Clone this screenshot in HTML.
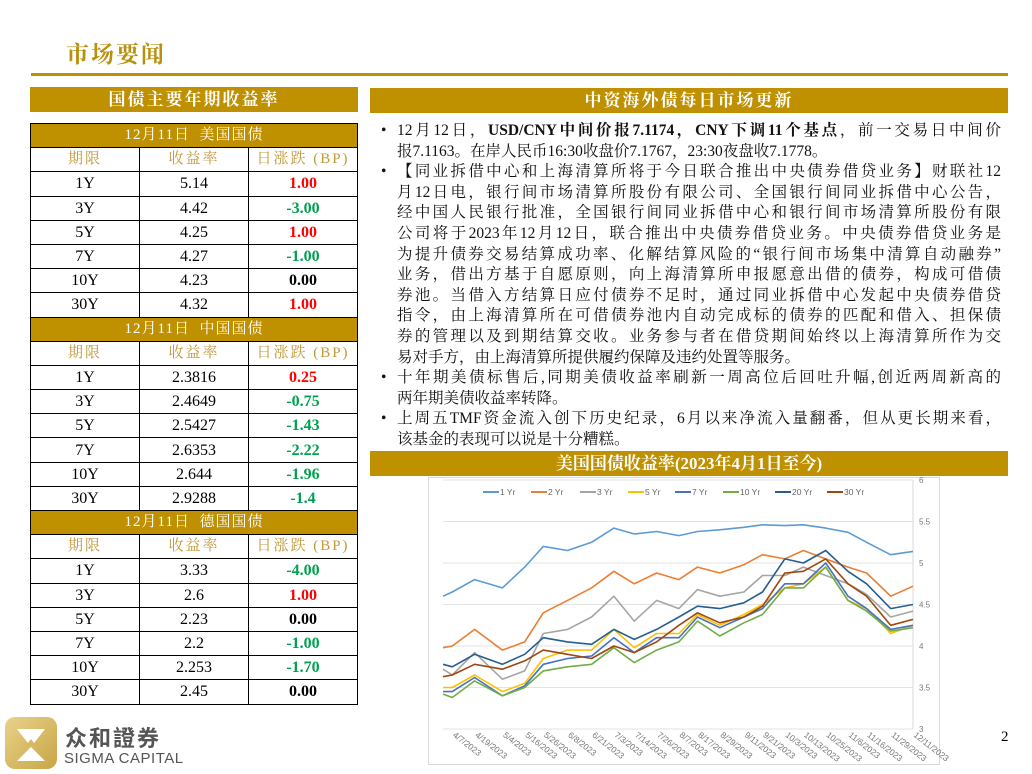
<!DOCTYPE html>
<html><head><meta charset="utf-8">
<style>
*{margin:0;padding:0;box-sizing:border-box}
body{width:1032px;height:769px;background:#fff;position:relative;overflow:hidden;font-family:"Liberation Serif","Noto Serif CJK SC",serif}
.abs{position:absolute}
.gold{background:#bf9000}
.bar{color:#fff;font-weight:bold;font-size:17px;text-align:center;line-height:25px;letter-spacing:2px}
table{border-collapse:collapse;position:absolute;left:30px;top:123px;width:328px}
td{border:1.5px solid #000;height:24.2px;text-align:center;font-size:16px;padding:0;line-height:21px;width:33.3%}
tr.sec td{background:#bf9000;color:#fff;font-size:15px;letter-spacing:1px}
tr.hd td{color:#c09a3a;font-size:15px;letter-spacing:2px}
.r{color:#ff0000;font-weight:bold}.g{color:#00a050;font-weight:bold}.k{font-weight:bold}
.txt{left:381px;top:121px;width:620px;font-size:15.5px;color:#111}
.txt .p{position:relative;padding-left:16px}
.txt .p:before{content:"•";position:absolute;left:0;top:0;line-height:20.6px}
.txt span{display:block;height:20.6px;line-height:20.6px;text-align:justify;text-align-last:justify;white-space:nowrap}
.txt span.e{text-align-last:left}
</style></head><body>
<div class="abs" style="left:66px;top:36px;font-size:23px;font-weight:bold;color:#b8900a;letter-spacing:2px">市场要闻</div>
<div class="abs gold" style="left:31px;top:73px;width:977px;height:3px"></div>

<div class="abs gold bar" style="left:30px;top:87px;width:328px;height:25px">国债主要年期收益率</div>
<table>
<tr class="sec"><td colspan="3">12月11日&nbsp; 美国国债</td></tr>
<tr class="hd"><td>期限</td><td>收益率</td><td>日涨跌 (BP)</td></tr>
<tr><td>1Y</td><td>5.14</td><td class="r">1.00</td></tr>
<tr><td>3Y</td><td>4.42</td><td class="g">-3.00</td></tr>
<tr><td>5Y</td><td>4.25</td><td class="r">1.00</td></tr>
<tr><td>7Y</td><td>4.27</td><td class="g">-1.00</td></tr>
<tr><td>10Y</td><td>4.23</td><td class="k">0.00</td></tr>
<tr><td>30Y</td><td>4.32</td><td class="r">1.00</td></tr>
<tr class="sec"><td colspan="3">12月11日&nbsp; 中国国债</td></tr>
<tr class="hd"><td>期限</td><td>收益率</td><td>日涨跌 (BP)</td></tr>
<tr><td>1Y</td><td>2.3816</td><td class="r">0.25</td></tr>
<tr><td>3Y</td><td>2.4649</td><td class="g">-0.75</td></tr>
<tr><td>5Y</td><td>2.5427</td><td class="g">-1.43</td></tr>
<tr><td>7Y</td><td>2.6353</td><td class="g">-2.22</td></tr>
<tr><td>10Y</td><td>2.644</td><td class="g">-1.96</td></tr>
<tr><td>30Y</td><td>2.9288</td><td class="g">-1.4</td></tr>
<tr class="sec"><td colspan="3">12月11日&nbsp; 德国国债</td></tr>
<tr class="hd"><td>期限</td><td>收益率</td><td>日涨跌 (BP)</td></tr>
<tr><td>1Y</td><td>3.33</td><td class="g">-4.00</td></tr>
<tr><td>3Y</td><td>2.6</td><td class="r">1.00</td></tr>
<tr><td>5Y</td><td>2.23</td><td class="k">0.00</td></tr>
<tr><td>7Y</td><td>2.2</td><td class="g">-1.00</td></tr>
<tr><td>10Y</td><td>2.253</td><td class="g">-1.70</td></tr>
<tr><td>30Y</td><td>2.45</td><td class="k">0.00</td></tr>
</table>

<div class="abs gold bar" style="left:370px;top:88px;width:638px;height:25px">中资海外债每日市场更新</div>
<div class="abs txt">
<div class="p"><span>12月12日，<b>USD/CNY中间价报7.1174，CNY下调11个基点</b>，前一交易日中间价</span><span class="e">报7.1163。在岸人民币16:30收盘价7.1767，23:30夜盘收7.1778。</span></div>
<div class="p"><span>【同业拆借中心和上海清算所将于今日联合推出中央债券借贷业务】财联社12</span><span>月12日电，银行间市场清算所股份有限公司、全国银行间同业拆借中心公告，</span><span>经中国人民银行批准，全国银行间同业拆借中心和银行间市场清算所股份有限</span><span>公司将于2023年12月12日，联合推出中央债券借贷业务。中央债券借贷业务是</span><span>为提升债券交易结算成功率、化解结算风险的“银行间市场集中清算自动融券”</span><span>业务，借出方基于自愿原则，向上海清算所申报愿意出借的债券，构成可借债</span><span>券池。当借入方结算日应付债券不足时，通过同业拆借中心发起中央债券借贷</span><span>指令，由上海清算所在可借债券池内自动完成标的债券的匹配和借入、担保债</span><span>券的管理以及到期结算交收。业务参与者在借贷期间始终以上海清算所作为交</span><span class="e">易对手方，由上海清算所提供履约保障及违约处置等服务。</span></div>
<div class="p"><span>十年期美债标售后,同期美债收益率刷新一周高位后回吐升幅,创近两周新高的</span><span class="e">两年期美债收益率转降。</span></div>
<div class="p"><span>上周五TMF资金流入创下历史纪录，6月以来净流入量翻番，但从更长期来看，</span><span class="e">该基金的表现可以说是十分糟糕。</span></div>
</div>

<div class="abs gold bar" style="left:370px;top:451px;width:638px;height:25px;letter-spacing:0">美国国债收益率(2023年4月1日至今)</div>
<svg class="abs" id="chart" style="left:0;top:0" width="1032" height="769"></svg>

<div class="abs" style="left:1001px;top:729px;font-size:15px">2</div>
<div class="abs" style="left:5px;top:717px;width:52px;height:52px;border-radius:10px;background:linear-gradient(135deg,#e8d28a,#c9a545)">
<svg width="52" height="52"><polygon points="12,12 40,12 26,30" fill="#fff"/><polygon points="26,30 12,44 40,44" fill="#fff"/><polygon points="26,22 20,30 32,30" fill="#d8b860"/></svg></div>
<div class="abs" style="left:65px;top:724px;font-family:'Noto Sans CJK TC',sans-serif;font-weight:bold;font-size:22px;color:#555;letter-spacing:2px;line-height:26px">众和證券</div>
<div class="abs" style="left:64px;top:750px;font-family:'Liberation Sans',sans-serif;font-size:15px;color:#555;line-height:17px;letter-spacing:0.5px">SIGMA CAPITAL</div>

<script>
const dates=["2023-04-02","2023-04-07","2023-04-19","2023-05-04","2023-05-16","2023-05-26","2023-06-08","2023-06-21","2023-07-03","2023-07-14","2023-07-26","2023-08-07","2023-08-17","2023-08-29","2023-09-11","2023-09-21","2023-10-03","2023-10-13","2023-10-25","2023-11-06","2023-11-16","2023-11-29","2023-12-11"];
const xLabels=["4/7/2023","4/19/2023","5/4/2023","5/16/2023","5/26/2023","6/8/2023","6/21/2023","7/3/2023","7/14/2023","7/26/2023","8/7/2023","8/17/2023","8/29/2023","9/11/2023","9/21/2023","10/3/2023","10/13/2023","10/25/2023","11/6/2023","11/16/2023","11/29/2023","12/11/2023"];
const yTicks=[3,3.5,4,4.5,5,5.5,6];
const seriesNames=["1 Yr","2 Yr","3 Yr","5 Yr","7 Yr","10 Yr","20 Yr","30 Yr"];
const seriesColors=["#5b9bd5","#ed7d31","#a5a5a5","#ffc000","#4472c4","#70ad47","#255e91","#9e480e"];
const y1=[4.6,4.65,4.8,4.7,4.95,5.2,5.15,5.25,5.42,5.35,5.38,5.33,5.38,5.4,5.43,5.46,5.45,5.46,5.42,5.37,5.25,5.1,5.14];
const y2=[3.98,4.0,4.2,3.95,4.05,4.4,4.55,4.7,4.9,4.75,4.88,4.8,4.95,4.88,4.98,5.1,5.05,5.15,5.05,4.95,4.88,4.6,4.72];
const y3=[3.72,3.65,3.92,3.6,3.7,4.15,4.2,4.35,4.6,4.3,4.55,4.45,4.68,4.6,4.65,4.85,4.85,4.95,4.85,4.75,4.62,4.35,4.42];
const y5=[3.5,3.5,3.65,3.45,3.55,3.85,3.95,3.95,4.2,3.98,4.15,4.15,4.38,4.25,4.38,4.5,4.7,4.75,4.95,4.55,4.45,4.15,4.25];
const y7=[3.45,3.45,3.62,3.4,3.52,3.78,3.85,3.88,4.1,3.92,4.1,4.1,4.35,4.22,4.35,4.45,4.75,4.75,5.0,4.6,4.45,4.2,4.25];
const y10=[3.42,3.38,3.58,3.4,3.5,3.7,3.75,3.78,3.98,3.8,3.95,4.05,4.3,4.12,4.28,4.38,4.7,4.7,4.95,4.55,4.42,4.18,4.22];
const y20=[3.78,3.75,3.9,3.78,3.9,4.1,4.05,4.02,4.2,4.08,4.2,4.35,4.48,4.45,4.52,4.65,5.05,5.0,5.15,4.9,4.75,4.45,4.5];
const y30=[3.63,3.65,3.78,3.72,3.82,3.95,3.9,3.85,4.0,3.92,4.05,4.25,4.4,4.28,4.35,4.48,4.88,4.9,5.05,4.75,4.6,4.25,4.32];
const seriesData=[y1,y2,y3,y5,y7,y10,y20,y30];

const NS="http://www.w3.org/2000/svg";
const svg=document.getElementById('chart');
const L=443,R=913,T=480,B=729;
const t0=Date.parse(dates[0]),t1=Date.parse("2023-12-11");
function xOfDate(s){const m=s.split('/');const t=m.length===3?Date.UTC(+m[2],+m[0]-1,+m[1]):Date.parse(s);return L+(t-t0)/(t1-t0)*(R-L);}
function yOf(v){return B-(v-3)/3*(B-T);}
function mk(tag,attrs){const e=document.createElementNS(NS,tag);for(const k in attrs)e.setAttribute(k,attrs[k]);svg.appendChild(e);return e;}

const frame=mk('rect',{x:428.5,y:477.5,width:511,height:287,fill:'#fff',stroke:'#d9d9d9'});


yTicks.forEach(v=>{
  const g=mk('line',{x1:L,x2:R,y1:yOf(v),y2:yOf(v),stroke:'#e3e3e3','stroke-width':1});
  
  
  const t=mk('text',{x:R+6,y:yOf(v)+3,'font-size':8,fill:'#777','font-family':'Liberation Sans, sans-serif'});
  t.textContent=String(v);
  
  
});
const ax=mk('line',{x1:R,x2:R,y1:T,y2:B,stroke:'#d9d9d9'});


xLabels.forEach(s=>{
  const x=xOfDate(s);
  const t=mk('text',{x:x,y:B+7,'font-size':8.5,fill:'#777','font-family':'Liberation Sans, sans-serif',transform:`rotate(38 ${x} ${B+7})`});
  t.textContent=s;
  
  
});
seriesData.forEach((arr,si)=>{
  const n=Math.min(arr.length,dates.length);
  let d='';
  for(let i=0;i<n;i++){d+=(i?'L':'M')+xOfDate(dates[i]).toFixed(1)+','+yOf(arr[i]).toFixed(1);}
  const p=mk('path',{d:d,fill:'none',stroke:seriesColors[si],'stroke-width':1.6,'stroke-linejoin':'round'});
  
  
});
const legX=[483,531,580,628,675,723,775,827];
seriesNames.forEach((nm,i)=>{
  const lx=legX[i];
  const l=mk('line',{x1:lx,x2:lx+16,y1:492,y2:492,stroke:seriesColors[i],'stroke-width':2});
  
  
  const t=mk('text',{x:lx+17,y:495,'font-size':8.5,fill:'#666','font-family':'Liberation Sans, sans-serif'});
  t.textContent=nm;
  
  
});
</script>
</body></html>
